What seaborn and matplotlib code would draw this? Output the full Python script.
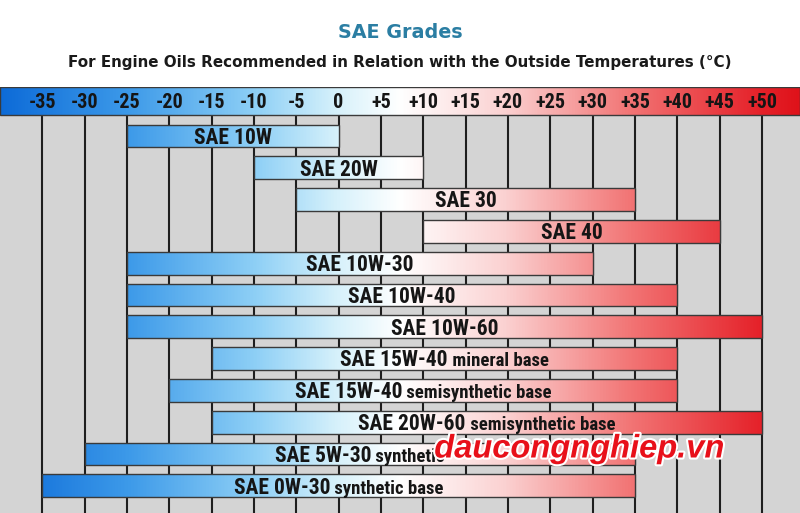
import matplotlib
matplotlib.use("Agg")
import matplotlib.pyplot as plt
import matplotlib.patheffects as pe
from matplotlib import font_manager
from matplotlib.colors import LinearSegmentedColormap
from matplotlib.patches import Rectangle
import numpy as np
import pandas as pd
import seaborn as sns

# ---------------- data ----------------
grades = ["SAE 10W", "SAE 20W", "SAE 30", "SAE 40", "SAE 10W-30", "SAE 10W-40",
          "SAE 10W-60", "SAE 15W-40", "SAE 15W-40", "SAE 20W-60", "SAE 5W-30", "SAE 0W-30"]
notes = ["", "", "", "", "", "", "", "mineral base", "semisynthetic base",
         "semisynthetic base", "synthetic", "synthetic base"]
min_temp = [-25, -10, -5, 10, -25, -25, -25, -15, -20, -15, -30, -35]
max_temp = [0, 10, 35, 45, 30, 40, 50, 40, 40, 50, 35, 35]
temp_ticks = [-35, -30, -25, -20, -15, -10, -5, 0, 5, 10, 15, 20, 25, 30, 35, 40, 45, 50]
tick_labels = ["-35", "-30", "-25", "-20", "-15", "-10", "-5", "0", "+5", "+10", "+15",
               "+20", "+25", "+30", "+35", "+40", "+45", "+50"]
title = "SAE Grades"
subtitle = "For Engine Oils Recommended in Relation with the Outside Temperatures (°C)"
watermark = "daucongnghiep.vn"

# ---------------- style ----------------
sns.set_theme(style="white")
avail = {f.name for f in font_manager.fontManager.ttflist}
cond = None
for cand in ["Roboto Condensed", "Liberation Sans Narrow", "Roboto"]:
    if cand in avail:
        cond = cand
        break
if cond is None:
    cond = "DejaVu Sans"
plt.rcParams["font.family"] = [cond, "DejaVu Sans"]

W, H, DPI = 800, 513, 100
fig = plt.figure(figsize=(W / DPI, H / DPI), dpi=DPI)
fig.patch.set_facecolor("white")

top_px = 87
ax = fig.add_axes([0, 0, 1, 1 - top_px / H])
ax.set_facecolor("#d4d4d4")

df = pd.DataFrame({
    "row": [f"{g} {n}".strip() + f"#{i}" for i, (g, n) in enumerate(zip(grades, notes))],
    "span": [b - a for a, b in zip(min_temp, max_temp)],
})
sns.barplot(data=df, x="span", y="row", orient="h", width=0.72, ax=ax,
            facecolor="none", edgecolor="#3a3a3a", linewidth=1.0, errorbar=None)

XMIN, XMAX = -40, 54.5
row_px0, row_step = 136, 31.8
y_top = (top_px - row_px0) / row_step
y_bot = (H - row_px0) / row_step
hdr_bot = (115 - row_px0) / row_step
ax.set_xlim(XMIN, XMAX)
ax.set_ylim(y_bot, y_top)
ax.set_xlabel("")
ax.set_ylabel("")
ax.set_xticks([])
ax.set_yticks([])
for s in ax.spines.values():
    s.set_visible(False)

cmap = LinearSegmentedColormap.from_list("temp", [
    (0.00, "#0d6bd8"),
    (0.16, "#3d9ae9"),
    (0.32, "#8fd0f6"),
    (0.42, "#d6f1fb"),
    (0.50, "#ffffff"),
    (0.63, "#fbd2d2"),
    (0.79, "#f27474"),
    (0.95, "#e5222a"),
    (1.00, "#df121a"),
])
grad = np.linspace(0, 1, 512).reshape(1, -1)

# grid lines
ax.vlines(temp_ticks, hdr_bot, y_bot, colors="#1e1e1e", linewidth=1.5, zorder=1)

# bars: position from data, gradient fill clipped to each bar
for patch, a, b in zip(ax.patches, min_temp, max_temp):
    patch.set_x(a)
    patch.set_width(b - a)
    patch.set_zorder(4)
    im = ax.imshow(grad, cmap=cmap, aspect="auto", interpolation="bilinear",
                   extent=(XMIN, XMAX, y_bot, y_top), zorder=3)
    im.set_clip_path(patch)

# header bar
hdr = Rectangle((XMIN, y_top), XMAX - XMIN, hdr_bot - y_top, facecolor="none",
                edgecolor="#3a3a3a", linewidth=1.0, zorder=4)
ax.add_patch(hdr)
imh = ax.imshow(grad, cmap=cmap, aspect="auto", interpolation="bilinear",
                extent=(XMIN, XMAX, y_bot, y_top), zorder=3)
imh.set_clip_path(hdr)
for t, lab in zip(temp_ticks, tick_labels):
    ax.text(t, (y_top + hdr_bot) / 2 + 0.04, lab, ha="center", va="center",
            fontsize=14.5, fontweight="bold", color="#151515", zorder=5)

ax.set_ylim(y_bot, y_top)
ax.set_xlim(XMIN, XMAX)

# bar labels (main part bold & larger, note smaller)
fig.canvas.draw()
r = fig.canvas.get_renderer()
main_fs, note_fs = 15.5, 13.5
for i, (g, n, a, b) in enumerate(zip(grades, notes, min_temp, max_temp)):
    mid = (a + b) / 2
    t1 = ax.annotate(g, (mid, i), textcoords="offset points", xytext=(0, 0),
                     ha="left", va="baseline", fontsize=main_fs, fontweight="bold",
                     color="#151515", zorder=6)
    w1 = t1.get_window_extent(r).width
    w2 = 0
    t2 = None
    if n:
        t2 = ax.annotate(" " + n, (mid, i), textcoords="offset points", xytext=(0, 0),
                         ha="left", va="baseline", fontsize=note_fs, fontweight="bold",
                         color="#151515", zorder=6)
        w2 = t2.get_window_extent(r).width
    tot = (w1 + w2) * 72 / DPI
    yoff = -main_fs * 0.36
    t1.set_position((-tot / 2, yoff))
    if t2 is not None:
        t2.set_position((-tot / 2 + w1 * 72 / DPI, yoff))

# titles
fig.text(0.5, 1 - 33 / H, title, ha="center", va="center", fontsize=13.8,
         fontweight="bold", color="#2b7ea3", family=["DejaVu Sans"])
fig.text(0.5, 1 - 62 / H, subtitle, ha="center", va="center", fontsize=10.9,
         fontweight="bold", color="#1a1a1a", family=["DejaVu Sans"])

# watermark
fig.text(579 / W, 1 - 449 / H, watermark, ha="center", va="center", fontsize=23.5,
         fontweight="bold", style="italic", color="#e8101a",
         family=["Liberation Sans", "DejaVu Sans"],
         path_effects=[pe.withStroke(linewidth=3, foreground="white")], zorder=10)

fig.savefig("out.png", dpi=DPI, facecolor="white")
